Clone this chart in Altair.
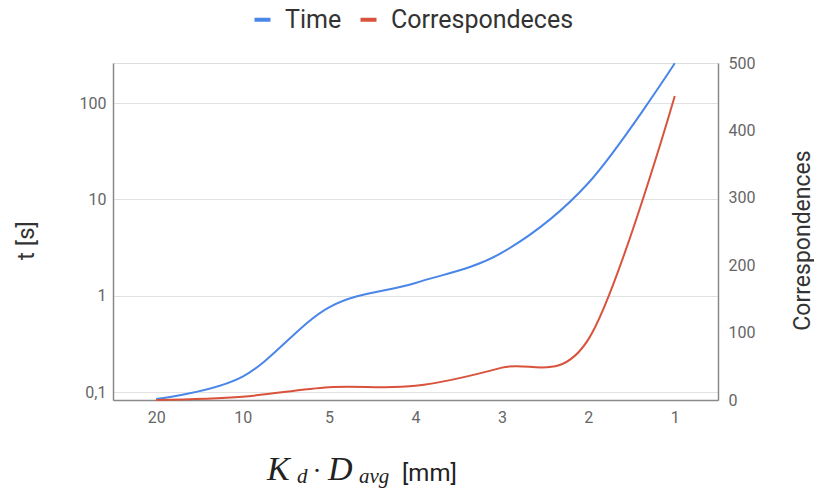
import altair as alt
import pandas as pd

categories = ["20", "10", "5", "4", "3", "2", "1"]
time_s = [0.085, 0.145, 0.76, 1.36, 2.8, 14.8, 258]
correspondences = [0, 5, 19, 21, 48, 90, 451]
series_names = ["Time", "Correspondeces"]
series_colors = ["#4a86e8", "#d9533c"]
left_ticks = [0.1, 1, 10, 100]
right_ticks = [0, 100, 200, 300, 400, 500]

df = pd.DataFrame({"k": categories, "time": time_s, "corr": correspondences})

W, H = 605, 337
FONT = "Roboto"
color_scale = alt.Scale(domain=series_names, range=series_colors)

x_enc = alt.X(
    "k:N", sort=categories,
    scale=alt.Scale(type="point", padding=0.5),
    axis=alt.Axis(title=None, labelAngle=0, ticks=False, domainColor="#8a8a8a",
                  domainWidth=1.5, labelColor="#666", labelFontSize=16,
                  labelPadding=9, grid=False, labelFont=FONT),
)

legend = alt.Legend(title=None, orient="none", direction="horizontal",
                    legendX=137, legendY=-56, symbolType="stroke",
                    symbolStrokeWidth=4, symbolSize=256,
                    labelFontSize=25, labelFont=FONT, labelColor="#333",
                    labelLimit=500, columnPadding=10, labelOffset=10)

time_line = alt.Chart(df).transform_calculate(series="'Time'").mark_line(
    interpolate="cardinal", strokeWidth=2).encode(
    x=x_enc,
    y=alt.Y("time:Q",
            scale=alt.Scale(type="log", domain=[0.083, 260], nice=False),
            axis=alt.Axis(title="t [s]", values=left_ticks, orient="left",
                          labelExpr="datum.value >= 1 ? format(datum.value, 'd') : '0,1'",
                          ticks=False, domainColor="#8a8a8a", domainWidth=1.5,
                          gridColor="#e2e2e2", gridWidth=1.2, grid=True,
                          labelColor="#666", labelFontSize=16, labelPadding=7,
                          labelFont=FONT, titleFont=FONT, titleFontSize=24,
                          titleFontWeight="normal", titleColor="#333",
                          titleAngle=270, titleX=-87, titleY=177,
                          titleAlign="center", titleBaseline="middle")),
    color=alt.Color("series:N", scale=color_scale, legend=legend),
)

corr_line = alt.Chart(df).transform_calculate(series="'Correspondeces'").mark_line(
    interpolate="cardinal", strokeWidth=2).encode(
    x=x_enc,
    y=alt.Y("corr:Q",
            scale=alt.Scale(domain=[0, 500], nice=False),
            axis=alt.Axis(title="Correspondences", values=right_ticks, orient="right",
                          ticks=False, domainColor="#8a8a8a", domainWidth=1.5, grid=False,
                          labelColor="#666", labelFontSize=16, labelPadding=10,
                          labelFont=FONT, titleFont=FONT, titleFontSize=23,
                          titleFontWeight="normal", titleColor="#333",
                          titleAngle=270, titleX=84, titleY=177,
                          titleAlign="center", titleBaseline="middle")),
    color=alt.Color("series:N", scale=color_scale, legend=legend),
)

one = pd.DataFrame({"a": [0]})
title_parts = [
    ("K", 154, 417, 34, "Liberation Serif", "italic", "left"),
    ("d", 184, 420, 21, "Liberation Serif", "italic", "left"),
    ("\u00b7", 204, 417, 27, "Liberation Serif", "normal", "center"),
    ("D", 215, 417, 34, "Liberation Serif", "italic", "left"),
    ("avg", 246, 420, 21, "Liberation Serif", "italic", "left"),
    ("[mm]", 289, 418, 24, FONT, "normal", "left"),
]
title_layers = [
    alt.Chart(one).mark_text(text=t, align=al, baseline="alphabetic", fontSize=fs,
                             font=f, fontStyle=st, color="#222").encode(
        x=alt.value(px), y=alt.value(py))
    for (t, px, py, fs, f, st, al) in title_parts
]

chart = alt.layer(time_line, corr_line, *title_layers).resolve_scale(
    y="independent"
).properties(
    width=W, height=H,
    autosize=alt.AutoSizeParams(type="none"),
    padding={"left": 105, "top": 55, "right": 96, "bottom": 89},
).configure_view(stroke=None).configure(background="white")

chart.save("out.html", embed_options={"renderer": "svg", "actions": False})
